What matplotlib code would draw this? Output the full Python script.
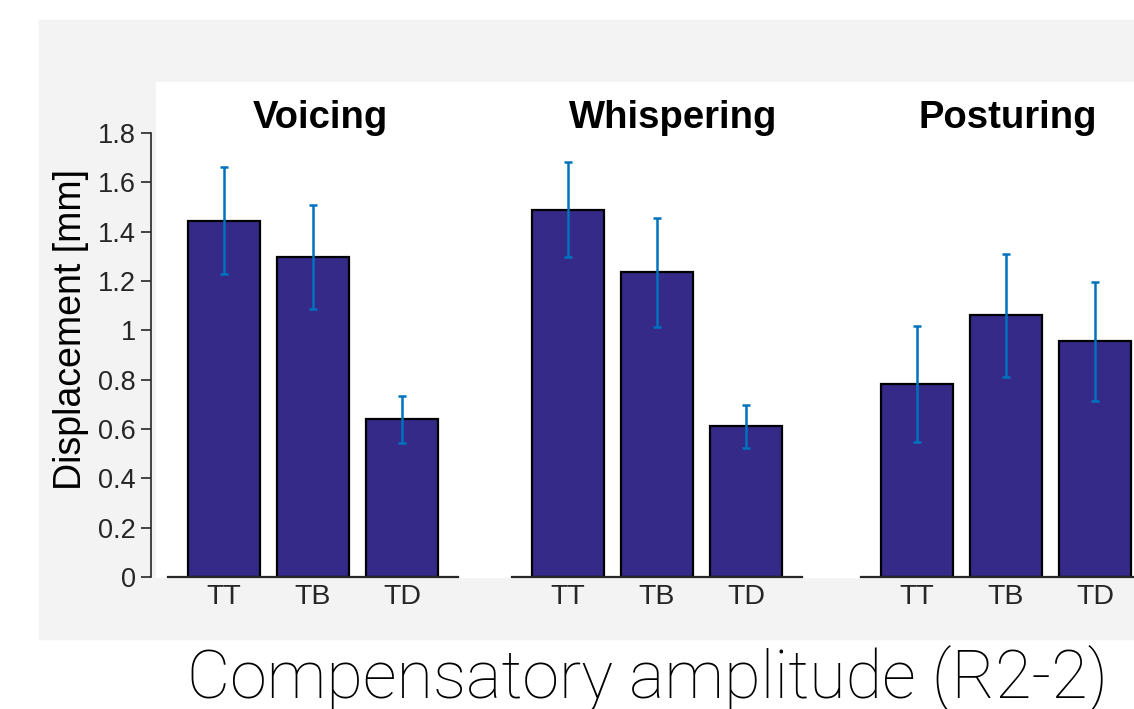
import matplotlib.pyplot as plt
from matplotlib.patches import Rectangle

# Data
conditions = ["Voicing", "Whispering", "Posturing"]
articulators = ["TT", "TB", "TD"]
means = [
    [1.445, 1.298, 0.640],
    [1.489, 1.235, 0.611],
    [0.784, 1.061, 0.955],
]
errors = [
    [0.218, 0.210, 0.095],
    [0.193, 0.221, 0.087],
    [0.235, 0.250, 0.241],
]
yticks = [0, 0.2, 0.4, 0.6, 0.8, 1.0, 1.2, 1.4, 1.6, 1.8]
ytick_labels = ["0", "0.2", "0.4", "0.6", "0.8", "1", "1.2", "1.4", "1.6", "1.8"]

W, H = 1134, 709
plt.rcParams['font.family'] = ['Liberation Sans', 'DejaVu Sans']
fig = plt.figure(figsize=(W / 100, H / 100), dpi=100)

def fx(px):
    return px / W

def fy(px):
    return 1 - px / H

# grey panel and white plotting area (behind the axes)
fig.patches.append(Rectangle((fx(39), fy(639)), fx(W - 39), (639 - 20) / H,
                             transform=fig.transFigure, color='#f3f3f3', zorder=-2))
fig.patches.append(Rectangle((fx(156), fy(577)), fx(W - 156), (577 - 82) / H,
                             transform=fig.transFigure, color='white', zorder=-1))

bar_color = '#352A87'
err_color = '#0072BD'
ink = '#262626'

lefts = [168, 512, 861]
title_x = [320, 673, 1008]
ax_w = 290
y0, y_top = 577, 577 - 2.0 * 246.67

for i, cond in enumerate(conditions):
    ax = fig.add_axes([fx(lefts[i]), fy(y0), fx(ax_w), (y0 - y_top) / H])
    ax.patch.set_alpha(0)
    x = [1, 2, 3]
    ax.bar(x, means[i], width=0.8, color=bar_color, edgecolor='black',
           linewidth=1.6, zorder=2)
    ax.errorbar(x, means[i], yerr=errors[i], fmt='none', ecolor=err_color,
                elinewidth=1.8, capsize=3, capthick=1.8, zorder=3)
    ax.set_xlim(0.37, 3.63)
    ax.set_ylim(0, 2.0)
    ax.set_xticks(x)
    ax.set_xticklabels(articulators, fontsize=20.5, color=ink)
    ax.tick_params(axis='x', length=0, pad=5)
    for s in ['top', 'right']:
        ax.spines[s].set_visible(False)
    ax.spines['bottom'].set_color(ink)
    ax.spines['bottom'].set_linewidth(1.6)
    if i == 0:
        ax.spines['left'].set_position(('outward', 12))
        ax.spines['left'].set_bounds(0, 1.8)
        ax.spines['left'].set_color(ink)
        ax.spines['left'].set_linewidth(1.2)
        ax.set_yticks(yticks)
        ax.set_yticklabels(ytick_labels, fontsize=19.5, color=ink)
        ax.tick_params(axis='y', direction='out', length=7, width=1.2,
                       color=ink, pad=4)
    else:
        ax.spines['left'].set_visible(False)
        ax.set_yticks([])
    fig.text(fx(title_x[i]), fy(118), cond, fontsize=27.5, fontweight='bold',
             ha='center', va='center', color='black')

fig.text(fx(71), fy(330), "Displacement [mm]", rotation=90, fontsize=27,
         ha='center', va='center', color='black')

fig.text(fx(647), fy(698), "Compensatory amplitude (R2-2)", fontsize=48,
         fontfamily=['Roboto', 'Liberation Sans'], fontweight='light',
         ha='center', va='baseline', color='black')

fig.savefig('out.png', dpi=100, facecolor='white')
